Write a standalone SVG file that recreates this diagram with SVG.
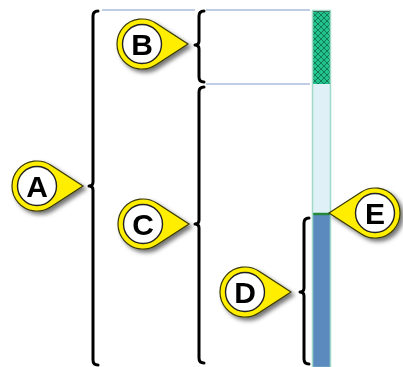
<svg xmlns="http://www.w3.org/2000/svg" width="403" height="367" viewBox="0 0 403 367">
<defs>
<style>
.brace{fill:none;stroke:#000;stroke-width:3;stroke-linecap:round;stroke-linejoin:round}
.guide{stroke:#7f9cc8;stroke-width:1.2;fill:none}
.pin{fill:#ffee00;stroke:#3a3a00;stroke-width:1.2}
.inner{fill:#fff;stroke:#222;stroke-width:1.4}
.lbl{font-family:"Liberation Sans",Arial,sans-serif;font-weight:bold;font-size:30px;fill:#000;text-anchor:middle}
</style>
<filter id="sh" x="-30%" y="-30%" width="160%" height="160%">
<feDropShadow dx="3" dy="3" stdDeviation="2" flood-color="#000" flood-opacity="0.55"/>
</filter>
<pattern id="hatch" width="6" height="6" patternUnits="userSpaceOnUse">
<rect width="6" height="6" fill="#22c28c"/>
<path d="M0 0L6 6M6 0L0 6" stroke="#137a58" stroke-width="1"/>
</pattern>
<g id="pinR">
<path class="pin" d="M46 0 L14 20.7 A25 25 0 1 1 14 -20.7 Z"/>
<circle class="inner" cx="0" cy="0" r="19.5"/>
</g>
</defs>
<rect width="403" height="367" fill="#fff"/>

<g id="column">
<rect x="312" y="10" width="19" height="74" fill="url(#hatch)"/>
<line x1="312" y1="11" x2="331" y2="11" stroke="#1c4a3a" stroke-width="2"/>
<rect x="312" y="84" width="19" height="130" fill="#dff0f6"/>
<rect x="312" y="214" width="19" height="153" fill="#5b8bbe"/>
<line x1="312" y1="214" x2="331" y2="214" stroke="#23883a" stroke-width="2.5"/>
<rect x="312.5" y="10.5" width="18" height="357" fill="none" stroke="#9fdac8" stroke-width="1.5"/>
</g>

<g id="connectors">
<line class="guide" x1="102" y1="10" x2="195" y2="10"/>
<line class="guide" x1="206" y1="10" x2="310" y2="10"/>
<line class="guide" x1="206" y1="84" x2="310" y2="84"/>
<path class="brace" d="M98 11 Q93 11 93 16 L93 182 Q93 186 89 186 Q93 186 93 190 L93 360 Q93 365 98 365"/>
<path class="brace" d="M204 11 Q199 11 199 16 L199 41 Q199 45 195 45 Q199 45 199 49 L199 77 Q199 82 204 82"/>
<path class="brace" d="M204 87 Q199 87 199 92 L199 220 Q199 224 195 224 Q199 224 199 228 L199 358 Q199 363 204 363"/>
<path class="brace" d="M309 218 Q304 218 304 223 L304 288 Q304 292 300 292 Q304 292 304 296 L304 359 Q304 364 309 364"/>
</g>

<g id="A" filter="url(#sh)"><use href="#pinR" transform="translate(37,186)"/><text class="lbl" x="37" y="197">A</text></g>
<g id="B" filter="url(#sh)"><use href="#pinR" transform="translate(142,44)"/><text class="lbl" x="142" y="55">B</text></g>
<g id="C" filter="url(#sh)"><use href="#pinR" transform="translate(143,224)"/><text class="lbl" x="143" y="235">C</text></g>
<g id="D" filter="url(#sh)"><use href="#pinR" transform="translate(245,292)"/><text class="lbl" x="245" y="303">D</text></g>
<g id="E" filter="url(#sh)"><use href="#pinR" transform="translate(375,213) scale(-1,1)"/><text class="lbl" x="375" y="224">E</text></g>
</svg>
